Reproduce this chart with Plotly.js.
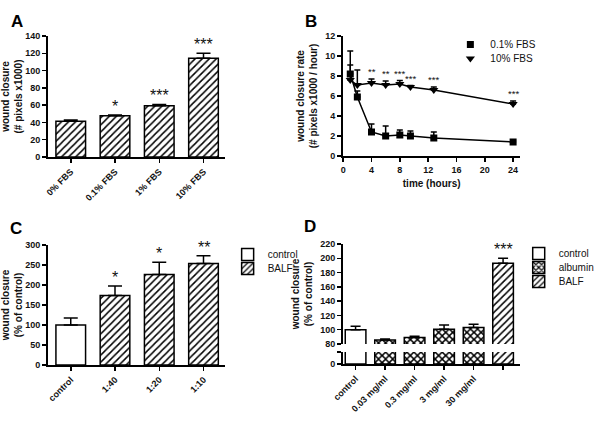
<!DOCTYPE html>
<html><head><meta charset="utf-8">
<script src="https://cdn.plot.ly/plotly-3.0.1.min.js"></script>
<style>html,body{margin:0;padding:0;background:#fff}#chart{width:600px;height:424px}</style>
</head><body><div id="chart"></div>
<script>
// ---- Panel A ----
const catsA = ['0% FBS', '0.1% FBS', '1% FBS', '10% FBS'];
const valsA = [41.5, 47.8, 59.2, 114.3];
const errA = [1.2, 0.9, 1.6, 5.8];
const starsA = ['', '*', '***', '***'];

// ---- Panel B ----
const timesB = [1, 2, 4, 6, 8, 9.5, 12.8, 24];
const fbs01 = [8.2, 5.9, 2.4, 2.0, 2.1, 2.0, 1.8, 1.4];
const fbs01Err = [2.3, 0.6, 0.8, 1.0, 0.5, 0.5, 0.6, 0.1];
const fbs10 = [7.6, 7.1, 7.3, 7.1, 7.2, 6.9, 6.6, 5.2];
const fbs10Err = [1.5, 1.5, 0.4, 0.4, 0.35, 0.15, 0.3, 0.3];
const starsB = ['', '', '**', '**', '***', '***', '***', '***'];
const seriesB = ['0.1% FBS', '10% FBS'];

// ---- Panel C ----
const catsC = ['control', '1:40', '1:20', '1:10'];
const ctrlC = [100];
const ctrlCErr = [17.5];
const balfC = [174, 226, 254];
const balfCErr = [23.5, 31, 19];
const starsC = ['', '*', '*', '**'];

// ---- Panel D ----
const catsD = ['control', '0.03 mg/ml', '0.3 mg/ml', '3 mg/ml', '30 mg/ml', 'BALF'];
const tickTextD = ['control', '0.03 mg/ml', '0.3 mg/ml', '3 mg/ml', '30 mg/ml', ''];
const ctrlD = [100];
const ctrlDErr = [5];
const albD = [85.5, 89, 100.5, 103];
const albDErr = [1.5, 2, 6, 4.5];
const balfD = [193];
const balfDErr = [7];
const starsD = ['', '', '', '', '', '***'];

const FONT = 'Liberation Sans, Arial, sans-serif';
const W = 600, H = 424;
const px = v => v / W;
const py = v => 1 - v / H;
const zeros = a => a.map(() => 0);

const hatch = {shape: '/', fgcolor: 'black', bgcolor: 'white', size: 5, solidity: 0.3, fillmode: 'replace'};
const cross = {shape: 'x', fgcolor: 'black', bgcolor: 'white', size: 5, solidity: 0.5, fillmode: 'replace'};
const edge = {color: 'black', width: 1.5};
const eb = (arr, w) => ({type: 'data', array: arr, arrayminus: zeros(arr), symmetric: false, color: 'black', thickness: 1.5, width: w});

const traces = [];
// A
traces.push({type: 'bar', x: catsA, y: valsA, width: 0.67, xaxis: 'x', yaxis: 'y',
  marker: {color: 'white', pattern: hatch, line: edge}, error_y: eb(errA, 7), showlegend: false});
// B lines
traces.push({type: 'scatter', mode: 'lines', x: timesB, y: fbs01, xaxis: 'x2', yaxis: 'y2', line: {color: 'black', width: 1.5}, showlegend: false});
traces.push({type: 'scatter', mode: 'lines', x: timesB, y: fbs10, xaxis: 'x2', yaxis: 'y2', line: {color: 'black', width: 1.5}, showlegend: false});
traces.push({type: 'scatter', mode: 'markers', name: seriesB[0], x: timesB, y: fbs01, xaxis: 'x2', yaxis: 'y2',
  marker: {symbol: 'square', size: 7, color: 'black'}, error_y: eb(fbs01Err, 3), legend: 'legend2'});
traces.push({type: 'scatter', mode: 'markers', name: seriesB[1], x: timesB, y: fbs10, xaxis: 'x2', yaxis: 'y2',
  marker: {symbol: 'triangle-down', size: 8, color: 'black'}, error_y: eb(fbs10Err, 3), legend: 'legend3'});
// C
traces.push({type: 'bar', name: 'control', x: catsC.slice(0, 1), y: ctrlC, width: 0.67, xaxis: 'x3', yaxis: 'y3',
  marker: {color: 'white', line: edge}, error_y: eb(ctrlCErr, 7), legend: 'legend4'});
traces.push({type: 'bar', name: 'BALF', x: catsC.slice(1), y: balfC, width: 0.67, xaxis: 'x3', yaxis: 'y3',
  marker: {color: 'white', pattern: hatch, line: edge}, error_y: eb(balfCErr, 7), legend: 'legend5'});
// D upper
traces.push({type: 'bar', name: 'control', x: catsD.slice(0, 1), y: ctrlD, width: 0.7, xaxis: 'x4', yaxis: 'y4',
  marker: {color: 'white', line: edge}, error_y: eb(ctrlDErr, 5), legend: 'legend6'});
traces.push({type: 'bar', name: 'albumin', x: catsD.slice(1, 5), y: albD, width: 0.7, xaxis: 'x4', yaxis: 'y4',
  marker: {color: 'white', pattern: cross, line: edge}, error_y: eb(albDErr, 5), legend: 'legend7'});
traces.push({type: 'bar', name: 'BALF', x: catsD.slice(5), y: balfD, width: 0.7, xaxis: 'x4', yaxis: 'y4',
  marker: {color: 'white', pattern: hatch, line: edge}, error_y: eb(balfDErr, 5), legend: 'legend8'});
// D lower (broken axis part)
traces.push({type: 'bar', x: catsD.slice(0, 1), y: ctrlD, width: 0.7, xaxis: 'x4', yaxis: 'y5', marker: {color: 'white', line: edge}, showlegend: false});
traces.push({type: 'bar', x: catsD.slice(1, 5), y: albD, width: 0.7, xaxis: 'x4', yaxis: 'y5', marker: {color: 'white', pattern: cross, line: edge}, showlegend: false});
traces.push({type: 'bar', x: catsD.slice(5), y: balfD, width: 0.7, xaxis: 'x4', yaxis: 'y5', marker: {color: 'white', pattern: hatch, line: edge}, showlegend: false});

const tickF = {family: FONT, size: 9, color: '#111', weight: 'bold'};
const titleF = {family: FONT, size: 10, color: '#111', weight: 'bold'};
const axBase = {showline: true, linecolor: 'black', linewidth: 2, ticks: 'outside', ticklen: 4, tickwidth: 1.5,
  tickcolor: 'black', showgrid: false, zeroline: false, tickfont: tickF, fixedrange: true};

const ann = [];
const letter = (t, x, y) => ann.push({text: '<b>' + t + '</b>', xref: 'paper', yref: 'paper', x: px(x), y: py(y),
  xanchor: 'left', yanchor: 'middle', showarrow: false, font: {family: FONT, size: 17, color: 'black'}});
letter('A', 9, 21); letter('B', 308, 21); letter('C', 8, 228); letter('D', 307, 226);
const star = (xr, yr, x, y, t, size, shift) => { if (t) ann.push({text: t, xref: xr, yref: yr, x: x, y: y, xanchor: 'center', yanchor: 'bottom',
  showarrow: false, yshift: shift, font: {family: FONT, size: size, color: '#111'}}); };
catsA.forEach((c, i) => star('x', 'y', c, valsA[i] + errA[i], starsA[i], 16, -2));
timesB.forEach((t, i) => star('x2', 'y2', t, fbs10[i] + fbs10Err[i], starsB[i], 9.5, 0));
catsC.forEach((c, i) => { const v = i === 0 ? ctrlC[0] + ctrlCErr[0] : balfC[i - 1] + balfCErr[i - 1]; star('x3', 'y3', c, v, starsC[i], 16, -2); });
star('x4', 'y4', catsD[5], balfD[0] + balfDErr[0], starsD[5], 16, -2);

const leg = (x, y) => ({x: px(x - 18), y: py(y - 13), xanchor: 'left', yanchor: 'top', bgcolor: 'rgba(0,0,0,0)',
  borderwidth: 0, font: {family: FONT, size: 10, color: '#111'}, itemclick: false});

const layout = {
  width: W, height: H, margin: {l: 0, r: 0, t: 0, b: 0}, paper_bgcolor: 'white', plot_bgcolor: 'white',
  barmode: 'overlay', font: {family: FONT}, showlegend: true,
  xaxis: Object.assign({}, axBase, {domain: [px(49), px(229)], range: [-0.51, 3.49], anchor: 'y', tickangle: -45, type: 'category'}),
  yaxis: Object.assign({}, axBase, {domain: [py(157), py(36)], range: [0, 140], dtick: 20, anchor: 'x',
    title: {text: 'wound closure<br>(# pixels x1000)', font: titleF, standoff: 6}}),
  xaxis2: Object.assign({}, axBase, {domain: [px(349), px(529)], range: [0, 25], tickvals: [0, 4, 8, 12, 16, 20, 24], anchor: 'y2',
    title: {text: 'time (hours)', font: titleF, standoff: 6}}),
  yaxis2: Object.assign({}, axBase, {domain: [py(156), py(36)], range: [0, 12], dtick: 2, anchor: 'x2',
    title: {text: 'wound closure rate<br>(# pixels x1000 / hour)', font: titleF, standoff: 6}}),
  xaxis3: Object.assign({}, axBase, {domain: [px(49), px(229)], range: [-0.51, 3.49], anchor: 'y3', tickangle: -45, type: 'category'}),
  yaxis3: Object.assign({}, axBase, {domain: [py(365), py(245)], range: [0, 300], dtick: 50, anchor: 'x3',
    title: {text: 'wound closure<br>(% of control)', font: titleF, standoff: 6}}),
  xaxis4: Object.assign({}, axBase, {domain: [px(349), px(529)], range: [-0.42, 5.58], anchor: 'y5', tickangle: -45, type: 'category',
    tickmode: 'array', tickvals: catsD, ticktext: tickTextD}),
  yaxis4: Object.assign({}, axBase, {domain: [py(344), py(244)], range: [80, 220], dtick: 20, anchor: 'x4',
    title: {text: 'wound closure<br>(% of control)', font: titleF, standoff: 6}}),
  yaxis5: Object.assign({}, axBase, {domain: [py(364), py(352)], range: [0, 16.8], tickmode: 'array', tickvals: [0, 16.8], ticktext: ['0', ''], anchor: 'x4'}),
  legend2: leg(476, 43), legend3: leg(476, 57),
  legend4: leg(249.5, 253), legend5: leg(249.5, 267),
  legend6: leg(545.5, 252), legend7: leg(545.5, 266), legend8: leg(545.5, 280),
  annotations: ann
};
Plotly.newPlot('chart', traces, layout, {staticPlot: true, displayModeBar: false});
</script></body></html>
